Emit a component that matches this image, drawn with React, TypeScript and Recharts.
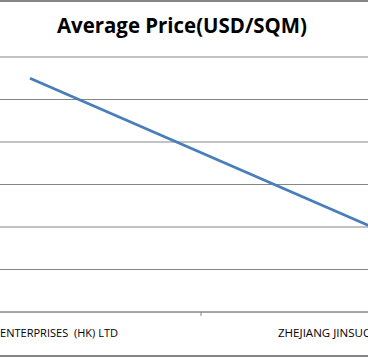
import React from "react";
import { LineChart, Line, XAxis, YAxis, CartesianGrid } from "recharts";

const categories = ["ENTERPRISES  (HK) LTD", "ZHEJIANG JINSUO"];
const avgPrice = [27.5, 10];
const yTicks = [0, 5, 10, 15, 20, 25, 30];
const title = "Average Price(USD/SQM)";

const data = categories.map((name, i) => ({ name, pos: i + 0.5, price: avgPrice[i] }));
const xTicks = [0.5, 1, 1.5];

const GRID = "#868686";

const Tick = (props: any) => {
  const { x, y, payload } = props;
  const v = payload.value as number;
  if (Number.isInteger(v)) {
    return <line x1={x} x2={x} y1={y} y2={y + 4} stroke={GRID} strokeWidth={1} />;
  }
  const idx = Math.floor(v);
  const label = categories[idx];
  const first = idx === 0;
  return (
    <text
      x={first ? x + 88 : x - 94}
      y={y + 25}
      textAnchor={first ? "end" : "start"}
      fontFamily="Open Sans, sans-serif"
      fontSize={10.5}
      fill="#000"
      textLength={first ? 118 : 94}
      lengthAdjust="spacingAndGlyphs"
      style={{ whiteSpace: "pre" }}
    >
      {label}
    </text>
  );
};

export default function App() {
  return (
    <div
      style={{
        position: "fixed",
        top: 0,
        left: 0,
        width: 368,
        height: 358,
        overflow: "hidden",
        background: "#fff",
      }}
    >
      <div style={{ position: "absolute", left: 0, top: 0, width: 368, height: 2, background: GRID }} />
      <div style={{ position: "absolute", left: 0, top: 355, width: 368, height: 2, background: GRID }} />
      <svg style={{ position: "absolute", left: 0, top: 0 }} width={368} height={50}>
        <text
          x={182}
          y={33}
          textAnchor="middle"
          fontFamily="Open Sans, sans-serif"
          fontWeight="bold"
          fontSize={21}
          fill="#000"
          textLength={250}
          lengthAdjust="spacingAndGlyphs"
        >
          {title}
        </text>
      </svg>
      <div style={{ position: "absolute", left: -150, top: 0 }}>
        <LineChart
          width={703}
          height={358}
          data={data}
          margin={{ top: 57, right: 10, bottom: 0, left: 9 }}
        >
          <CartesianGrid vertical={false} stroke={GRID} />
          <XAxis
            dataKey="pos"
            type="number"
            domain={[0, 2]}
            ticks={xTicks}
            interval={0}
            height={46}
            tickLine={false}
            tickSize={0}
            tickMargin={0}
            axisLine={{ stroke: GRID }}
            tick={<Tick />}
          />
          <YAxis hide domain={[0, 30]} ticks={yTicks} />
          <Line
            type="linear"
            dataKey="price"
            stroke="#4a7ebb"
            strokeWidth={2.75}
            dot={false}
            isAnimationActive={false}
          />
        </LineChart>
      </div>
    </div>
  );
}
